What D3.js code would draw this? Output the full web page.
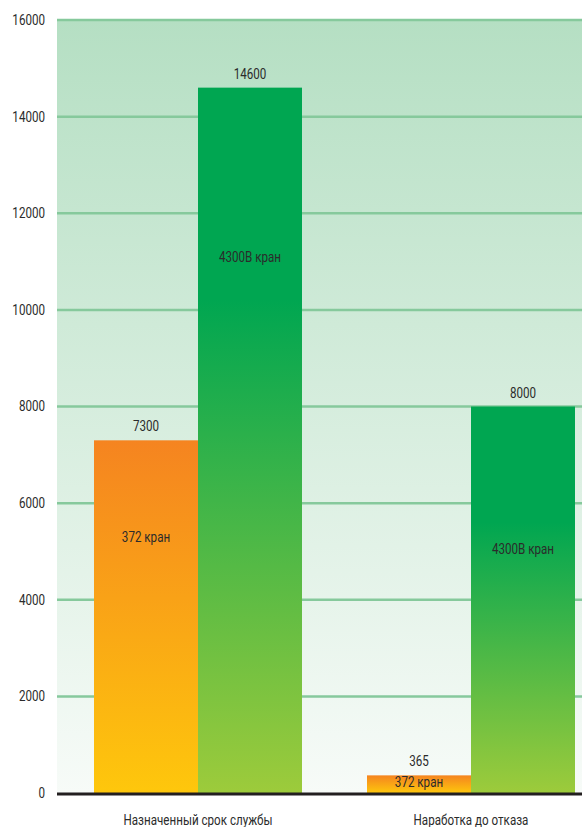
<!DOCTYPE html>
<html>
<head>
<meta charset="utf-8">
<script src="https://cdn.jsdelivr.net/npm/d3@7"></script>
<style>
body{margin:0;background:#fff}
svg text{font-family:"Roboto","Liberation Sans",sans-serif;font-size:14px;fill:#2b2b2b}
</style>
</head>
<body>
<div id="chart"></div>
<script>
// data
var categories = ['Назначенный срок службы', 'Наработка до отказа']
var series = ['372 кран', '4300В кран']
var values372 = [7300, 365]
var values4300 = [14600, 8000]
// where the name label sits inside each bar (in value units)
var nameAt372 = [5300, 230]
var nameAt4300 = [11100, 5050]
var yTicks = [0, 2000, 4000, 6000, 8000, 10000, 12000, 14000, 16000]

var W = 582, H = 827
var plotL = 57, plotT = 20, plotB = 793
var narrow = 0.83

var svg = d3.select('#chart').append('svg').attr('width', W).attr('height', H)
var defs = svg.append('defs')

var bg = defs.append('linearGradient').attr('id','bg').attr('x1',0).attr('y1',0).attr('x2',0).attr('y2',1)
bg.append('stop').attr('offset',0).attr('stop-color','#b5dfc3')
bg.append('stop').attr('offset',1).attr('stop-color','#f7fbf8')

var gOr = defs.append('linearGradient').attr('id','gOr').attr('x1',0).attr('y1',0).attr('x2',0).attr('y2',1)
gOr.append('stop').attr('offset',0).attr('stop-color','#f58420')
gOr.append('stop').attr('offset',1).attr('stop-color','#fec70c')

var gGr = defs.append('linearGradient').attr('id','gGr').attr('x1',0).attr('y1',0).attr('x2',0).attr('y2',1)
gGr.append('stop').attr('offset',0).attr('stop-color','#00a651')
gGr.append('stop').attr('offset',0.3).attr('stop-color','#00a651')
gGr.append('stop').attr('offset',1).attr('stop-color','#9dcb3b')

var y = d3.scaleLinear().domain([0,16000]).range([plotB, plotT])
var x = d3.scaleBand().domain(categories).range([61.5, 607.5]).paddingInner(0).paddingOuter(0)
var xs = d3.scaleBand().domain(series).range([0, 208])
var off = (x.bandwidth() - 208) / 2

// condensed look: place text then squeeze horizontally
function place(sel, fx, fy){
  sel.attr('transform', function(d,i){ return 'translate('+fx(d,i)+','+fy(d,i)+') scale('+narrow+',1)' })
}

svg.append('rect').attr('x',plotL).attr('y',plotT).attr('width',W-plotL).attr('height',plotB-plotT).attr('fill','url(#bg)')

// grid lines
svg.append('g').selectAll('line').data(yTicks.filter(function(d){return d>0}))
  .enter().append('line')
  .attr('x1',plotL).attr('x2',W)
  .attr('y1',function(d){return y(d)}).attr('y2',function(d){return y(d)})
  .attr('stroke','#86c99c').attr('stroke-width',2.5)

// y axis labels
var yaxis = svg.append('g').attr('transform','translate(45,0)')
  .call(d3.axisLeft(y).tickValues(yTicks).tickSize(0).tickPadding(0).tickFormat(d3.format('d')))
yaxis.select('.domain').remove()
yaxis.selectAll('text').attr('x',null).attr('transform','scale('+narrow+',1)')
  .style('font-size','14px').style('font-family','Roboto').attr('fill','#2b2b2b')

var rows = []
for (var i = 0; i < categories.length; i++) {
  rows.push({cat:categories[i], s:series[0], v:values372[i], at:nameAt372[i], fill:'url(#gOr)'})
  rows.push({cat:categories[i], s:series[1], v:values4300[i], at:nameAt4300[i], fill:'url(#gGr)'})
}
function bx(d){ return x(d.cat) + off + xs(d.s) }
function bmid(d){ return bx(d) + xs.bandwidth()/2 }

var bars = svg.append('g')
bars.selectAll('rect').data(rows).enter().append('rect')
  .attr('x',bx).attr('y',function(d){return y(d.v)})
  .attr('width',xs.bandwidth()).attr('height',function(d){return plotB - y(d.v)})
  .attr('fill',function(d){return d.fill})

bars.selectAll('.val').data(rows).enter().append('text').attr('class','val')
  .attr('text-anchor','middle')
  .text(function(d){return d.v})
  .call(place, bmid, function(d){return y(d.v)-9})

bars.selectAll('.nm').data(rows).enter().append('text').attr('class','nm')
  .attr('dy','0.35em')
  .attr('text-anchor','middle')
  .text(function(d){return d.s})
  .call(place, bmid, function(d){return y(d.at)})

// baseline
svg.append('line').attr('x1',plotL).attr('x2',W).attr('y1',plotB+1).attr('y2',plotB+1)
  .attr('stroke','#231f20').attr('stroke-width',3)

// category labels
svg.append('g').selectAll('text').data(categories).enter().append('text')
  .attr('text-anchor','middle')
  .text(function(d){return d})
  .call(place, function(d){return x(d)+x.bandwidth()/2}, function(){return 825})
</script>
</body>
</html>
